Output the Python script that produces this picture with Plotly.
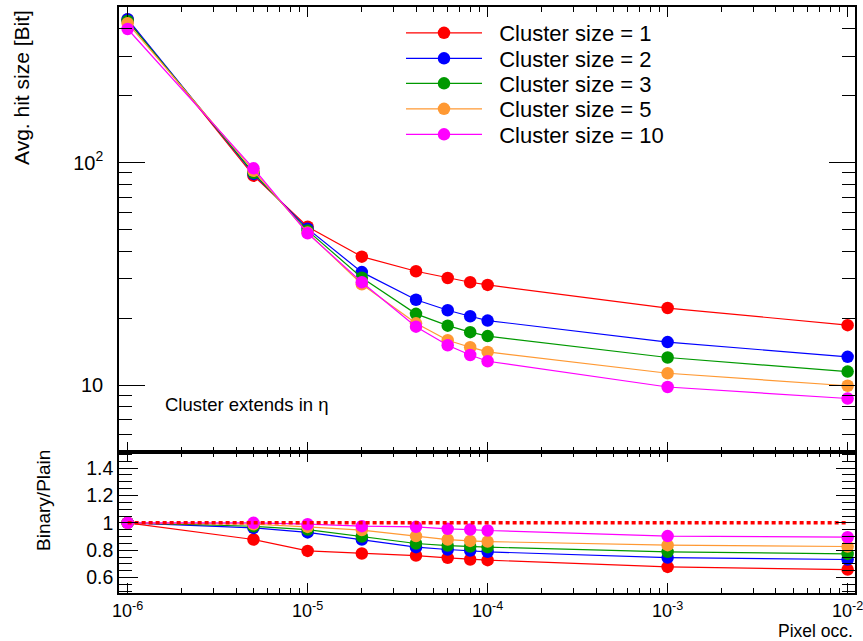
import plotly.graph_objects as go
from plotly.subplots import make_subplots

occupancy = [1e-6, 5e-6, 1e-5, 2e-5, 4e-5, 6e-5, 8e-5, 1e-4, 1e-3, 1e-2]
series_labels = ["Cluster size = 1", "Cluster size = 2", "Cluster size = 3",
                 "Cluster size = 5", "Cluster size = 10"]
series_colors = ["#ff0000", "#0000ff", "#009900", "#ff9933", "#ff00ff"]

hit_cs1 = [440, 87.4, 51.5, 37.8, 32.5, 30.3, 29.0, 28.2, 22.2, 18.6]
hit_cs2 = [442, 89.0, 50.5, 32.2, 24.2, 21.7, 20.4, 19.5, 15.6, 13.4]
hit_cs3 = [434, 90.0, 49.5, 30.4, 20.9, 18.5, 17.3, 16.6, 13.3, 11.5]
hit_cs5 = [424, 92.0, 48.5, 28.4, 18.95, 15.9, 14.8, 14.1, 11.3, 9.93]
hit_cs10 = [399, 94.3, 48.1, 29.0, 18.3, 15.1, 13.65, 12.8, 9.8, 8.7]

ratio_cs1 = [1.0, 0.878, 0.795, 0.776, 0.761, 0.744, 0.732, 0.727, 0.678, 0.658]
ratio_cs2 = [1.0, 0.963, 0.930, 0.878, 0.822, 0.805, 0.798, 0.788, 0.746, 0.732]
ratio_cs3 = [1.0, 0.975, 0.951, 0.900, 0.849, 0.834, 0.827, 0.822, 0.788, 0.773]
ratio_cs5 = [1.0, 0.990, 0.970, 0.947, 0.903, 0.878, 0.868, 0.863, 0.837, 0.827]
ratio_cs10 = [1.0, 1.000, 0.990, 0.976, 0.971, 0.956, 0.951, 0.944, 0.903, 0.895]

reference_x = [1e-6, 1e-2]
reference_y = [1.0, 1.0]

x_tickvals = [1e-6, 1e-5, 1e-4, 1e-3, 1e-2]
x_ticktext = ["10<sup>-6</sup>", "10<sup>-5</sup>", "10<sup>-4</sup>",
              "10<sup>-3</sup>", "10<sup>-2</sup>"]
y_tickvals = [10, 100]
y_ticktext = ["10", "10<sup>2</sup>"]
ratio_tickvals = [0.6, 0.8, 1.0, 1.2, 1.4]
ratio_ticktext = ["0.6", "0.8", "1", "1.2", "1.4"]

hits = [hit_cs1, hit_cs2, hit_cs3, hit_cs5, hit_cs10]
ratios = [ratio_cs1, ratio_cs2, ratio_cs3, ratio_cs5, ratio_cs10]

FONT = "Liberation Sans, Arial, Helvetica, sans-serif"

# plot-area geometry (pixels) used to place the legends
L, R, T, B, W, H = 119, 8, 7, 48, 863, 641
PW, PH = W - L - R, H - T - B
legend_centers_px = [33, 58.5, 83.5, 109, 134.5]
legend_left_px = 401

x_minor = [m * 10.0 ** e for e in range(-6, -2) for m in range(2, 10)]
y_minor = [m * 10.0 ** e for e in range(0, 3) for m in range(2, 10)]

fig = make_subplots(rows=2, cols=1, shared_xaxes=True, vertical_spacing=0,
                    row_heights=[0.7594, 0.2406])

legend_names = ["legend", "legend2", "legend3", "legend4", "legend5"]

for lab, col, h, lg in zip(series_labels, series_colors, hits, legend_names):
    fig.add_trace(go.Scatter(x=occupancy, y=h, mode="lines+markers",
                             name="\u00a0\u00a0" + lab,
                             line=dict(color=col, width=1.2),
                             marker=dict(color=col, size=12.5, symbol="circle"),
                             legendgroup=lab, legend=lg), row=1, col=1)

for lab, col, r in zip(series_labels, series_colors, ratios):
    fig.add_trace(go.Scatter(x=occupancy, y=r, mode="lines+markers", name=lab,
                             line=dict(color=col, width=1.2),
                             marker=dict(color=col, size=12.5, symbol="circle"),
                             legendgroup=lab, showlegend=False), row=2, col=1)

fig.add_trace(go.Scatter(x=reference_x, y=reference_y, mode="lines",
                         line=dict(color="#ff0000", width=3.5, dash="4px,3px"),
                         showlegend=False), row=2, col=1)

axis_common = dict(showgrid=False, zeroline=False, showline=True, linecolor="black",
                   linewidth=1.5, mirror="ticks", ticks="inside", tickcolor="black",
                   tickwidth=1.2, automargin=False)

fig.update_xaxes(type="log", range=[-6.048, -1.959], tickvals=x_tickvals,
                 ticktext=x_ticktext, ticklen=10,
                 minor=dict(tickvals=x_minor, ticks="inside", ticklen=5,
                            tickcolor="black", tickwidth=1.2),
                 tickfont=dict(family=FONT, size=18, color="black"),
                 ticklabelstandoff=1, ticklabeloverflow="allow",
                 **axis_common)
fig.update_xaxes(showticklabels=False, row=1, col=1)

fig.update_yaxes(type="log", range=[0.699, 2.700], tickvals=y_tickvals,
                 ticktext=y_ticktext, ticklen=26,
                 minor=dict(tickvals=y_minor, ticks="inside", ticklen=13,
                            tickcolor="black", tickwidth=1.2),
                 tickfont=dict(family=FONT, size=20, color="black"),
                 ticklabelstandoff=10,
                 row=1, col=1, **axis_common)
fig.update_yaxes(range=[0.487, 1.518], tickvals=ratio_tickvals,
                 ticktext=ratio_ticktext, ticklen=19,
                 minor=dict(dtick=0.05, ticks="inside", ticklen=13,
                            tickcolor="black", tickwidth=1.2),
                 tickfont=dict(family=FONT, size=19.5, color="black"),
                 ticklabelstandoff=0,
                 row=2, col=1, **axis_common)

legend_layouts = {}
for lg, cy in zip(legend_names, legend_centers_px):
    legend_layouts[lg] = dict(
        x=(legend_left_px - L) / PW, y=(H - B - cy) / PH,
        xanchor="left", yanchor="middle",
        bgcolor="rgba(255,255,255,0)", borderwidth=0,
        font=dict(family=FONT, size=22, color="black"),
        itemwidth=76)

fig.update_layout(
    width=W, height=H,
    margin=dict(l=L, r=R, t=T, b=B, autoexpand=False),
    paper_bgcolor="white", plot_bgcolor="white",
    font=dict(family=FONT, color="black"),
    showlegend=True,
    annotations=[
        dict(text="Avg. hit size [Bit]", xref="paper", yref="paper",
             x=(22 - L) / PW, y=(H - B - 88) / PH, xanchor="center", yanchor="middle",
             textangle=-90, showarrow=False,
             font=dict(family=FONT, size=21, color="black")),
        dict(text="Binary/Plain", xref="paper", yref="paper",
             x=(43 - L) / PW, y=(H - B - 501) / PH, xanchor="center", yanchor="middle",
             textangle=-90, showarrow=False,
             font=dict(family=FONT, size=19, color="black")),
        dict(text="Pixel occ.", xref="paper", yref="paper",
             x=1.0, y=(H - B - 630.5) / PH, xanchor="right", yanchor="middle",
             showarrow=False, font=dict(family=FONT, size=17.5, color="black")),
        dict(text="Cluster extends in \u03b7", xref="paper", yref="paper",
             x=(163 - L) / PW, y=(H - B - 404) / PH, xanchor="left", yanchor="middle",
             showarrow=False, font=dict(family=FONT, size=18.5, color="black")),
    ],
    **legend_layouts,
)

page_js = (
    "document.documentElement.style.overflow='hidden';"
    "document.body.style.overflow='hidden';"
    "document.body.style.margin='0';"
    "document.body.style.padding='0';"
)

fig.write_html("out.html", config={"displayModeBar": False}, post_script=page_js)
